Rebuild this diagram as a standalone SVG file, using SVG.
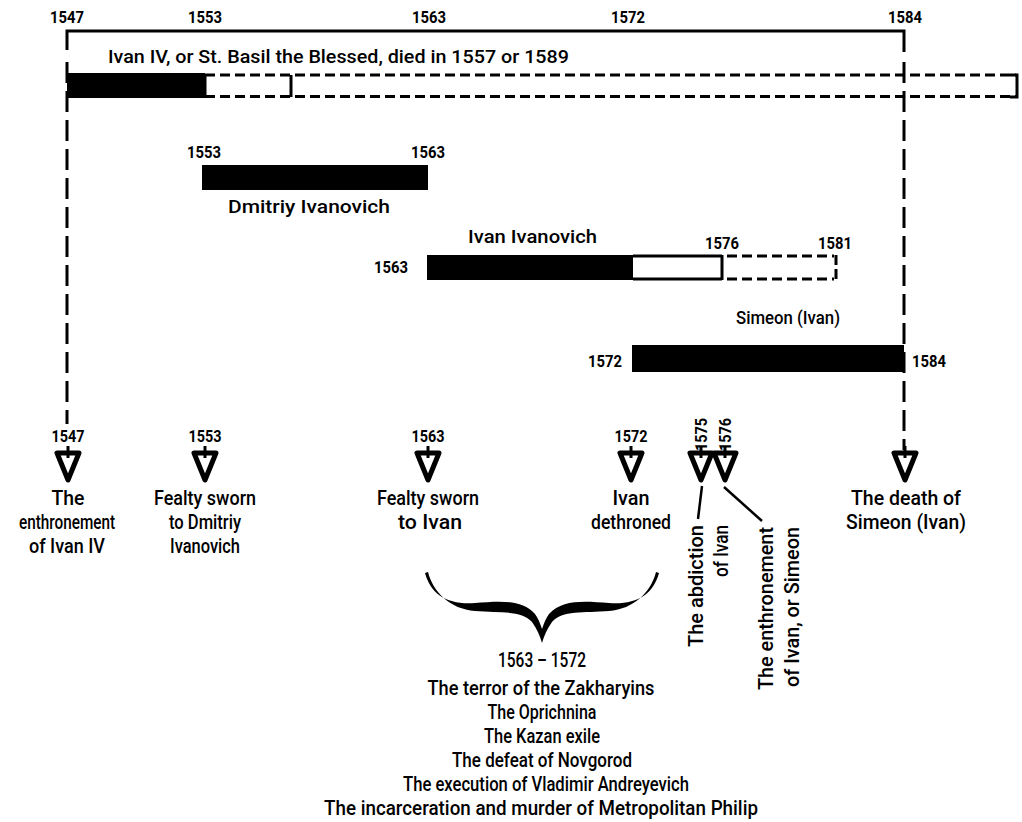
<svg xmlns="http://www.w3.org/2000/svg" width="1022" height="822" viewBox="0 0 1022 822">
<style>
text{font-family:Roboto,"Liberation Sans",sans-serif;font-weight:500;fill:#000}
.yr{font-size:17px;font-weight:bold;text-anchor:middle}
.yl{font-size:17px;font-weight:bold}
.ttl{font-size:19px}
.bl{font-size:19px}
.ev{font-size:21px;text-anchor:middle}
.rot{font-size:21px;text-anchor:end}
.lst{font-size:20px;text-anchor:middle}
.solid{fill:none;stroke:#000;stroke-width:3}
.dash{fill:none;stroke:#000;stroke-width:3;stroke-dasharray:10 5}
.vdash{fill:none;stroke:#000;stroke-width:3;stroke-dasharray:21 8}
.tri{fill:#fff;stroke:#000;stroke-width:5;stroke-linejoin:round}
.thin{fill:none;stroke:#000;stroke-width:2.5}
</style>

<g id="connectors">
  <path class="solid" d="M67,50 V31 H904 V52"/>
  <line class="vdash" x1="67" y1="62" x2="67" y2="424"/>
  <line class="vdash" x1="904" y1="62" x2="904" y2="450"/>
  <line class="thin" x1="702" y1="486" x2="698" y2="519"/>
  <line class="thin" x1="724" y1="487" x2="762" y2="521"/>
</g>

<g id="top-years">
  <text class="yr" x="67" y="23" textLength="34" lengthAdjust="spacingAndGlyphs">1547</text>
  <text class="yr" x="205" y="23" textLength="34" lengthAdjust="spacingAndGlyphs">1553</text>
  <text class="yr" x="429" y="23" textLength="34" lengthAdjust="spacingAndGlyphs">1563</text>
  <text class="yr" x="628" y="23" textLength="34" lengthAdjust="spacingAndGlyphs">1572</text>
  <text class="yr" x="905" y="23" textLength="34" lengthAdjust="spacingAndGlyphs">1584</text>
</g>

<g id="ivan-iv">
  <text class="ttl" x="108" y="63" textLength="461" lengthAdjust="spacingAndGlyphs">Ivan IV, or St. Basil the Blessed, died in 1557 or 1589</text>
  <rect x="67" y="73" width="138" height="25" fill="#000"/>
  <line class="dash" x1="205" y1="75" x2="1016" y2="75"/>
  <line class="dash" x1="205" y1="96.5" x2="1016" y2="96.5"/>
  <line class="solid" x1="205" y1="74" x2="205" y2="98"/>
  <line class="solid" x1="291" y1="75" x2="291" y2="97"/>
  <path class="solid" d="M1010,75 H1017 V97 H1010"/>
</g>

<g id="dmitriy">
  <text class="yr" x="204" y="158" textLength="34" lengthAdjust="spacingAndGlyphs">1553</text>
  <text class="yr" x="428" y="158" textLength="34" lengthAdjust="spacingAndGlyphs">1563</text>
  <rect x="202" y="165" width="226" height="25" fill="#000"/>
  <text class="bl" x="309" y="213" text-anchor="middle" textLength="162" lengthAdjust="spacingAndGlyphs">Dmitriy Ivanovich</text>
</g>

<g id="ivan-ivanovich">
  <text class="bl" x="468" y="243" textLength="129" lengthAdjust="spacingAndGlyphs">Ivan Ivanovich</text>
  <text class="yr" x="722" y="249" textLength="34" lengthAdjust="spacingAndGlyphs">1576</text>
  <text class="yr" x="835" y="249" textLength="34" lengthAdjust="spacingAndGlyphs">1581</text>
  <text class="yr" x="391" y="273" textLength="34" lengthAdjust="spacingAndGlyphs">1563</text>
  <rect x="427" y="255" width="206" height="25" fill="#000"/>
  <path class="solid" d="M633,256 H722 M633,279 H722 M722,255 V280"/>
  <line class="dash" x1="727" y1="256" x2="834" y2="256"/>
  <line class="dash" x1="727" y1="279" x2="834" y2="279"/>
  <line x1="836" y1="255" x2="836" y2="280" stroke="#000" stroke-width="3" stroke-dasharray="10 4"/>
</g>

<g id="simeon">
  <text class="bl" x="736" y="324" textLength="104" lengthAdjust="spacingAndGlyphs">Simeon (Ivan)</text>
  <text class="yr" x="605" y="367" textLength="34" lengthAdjust="spacingAndGlyphs">1572</text>
  <text class="yr" x="929" y="367" textLength="34" lengthAdjust="spacingAndGlyphs">1584</text>
  <rect x="632" y="345" width="272" height="27" fill="#000"/>
</g>

<g id="event-1547">
  <text class="yr" x="68" y="442" textLength="33" lengthAdjust="spacingAndGlyphs">1547</text>
  <polygon class="tri" points="57,453 79,453 68,480"/>
  <line class="solid" x1="68" y1="446" x2="68" y2="458"/>
  <text class="ev" x="68" y="505" textLength="33" lengthAdjust="spacingAndGlyphs">The</text>
  <text class="ev" x="67" y="529" textLength="96" lengthAdjust="spacingAndGlyphs">enthronement</text>
  <text class="ev" x="67" y="553" textLength="76" lengthAdjust="spacingAndGlyphs">of Ivan IV</text>
</g>

<g id="event-1553">
  <text class="yr" x="205" y="442" textLength="33" lengthAdjust="spacingAndGlyphs">1553</text>
  <polygon class="tri" points="194,453 216,453 205,480"/>
  <line class="solid" x1="205" y1="446" x2="205" y2="458"/>
  <text class="ev" x="205" y="505" textLength="102" lengthAdjust="spacingAndGlyphs">Fealty sworn</text>
  <text class="ev" x="205" y="529" textLength="72" lengthAdjust="spacingAndGlyphs">to Dmitriy</text>
  <text class="ev" x="205" y="553" textLength="70" lengthAdjust="spacingAndGlyphs">Ivanovich</text>
</g>

<g id="event-1563">
  <text class="yr" x="428" y="442" textLength="33" lengthAdjust="spacingAndGlyphs">1563</text>
  <polygon class="tri" points="417,453 439,453 428,480"/>
  <line class="solid" x1="428" y1="446" x2="428" y2="458"/>
  <text class="ev" x="428" y="505" textLength="102" lengthAdjust="spacingAndGlyphs">Fealty sworn</text>
  <text class="ev" x="430" y="529" textLength="64" lengthAdjust="spacingAndGlyphs">to Ivan</text>
</g>

<g id="event-1572">
  <text class="yr" x="631" y="442" textLength="33" lengthAdjust="spacingAndGlyphs">1572</text>
  <polygon class="tri" points="620,453 642,453 631,480"/>
  <line class="solid" x1="631" y1="446" x2="631" y2="458"/>
  <text class="ev" x="631" y="505" textLength="37" lengthAdjust="spacingAndGlyphs">Ivan</text>
  <text class="ev" x="631" y="529" textLength="80" lengthAdjust="spacingAndGlyphs">dethroned</text>
</g>

<g id="event-1575">
  <text class="yl" transform="translate(707,451) rotate(-90)" textLength="33" lengthAdjust="spacingAndGlyphs">1575</text>
  <polygon class="tri" points="690,453 712,453 701,480"/>
  <line class="solid" x1="701" y1="446" x2="701" y2="458"/>
  <text class="rot" transform="translate(703,525) rotate(-90)" textLength="122" lengthAdjust="spacingAndGlyphs">The abdiction</text>
  <text class="rot" transform="translate(728,525) rotate(-90)" textLength="52" lengthAdjust="spacingAndGlyphs">of Ivan</text>
</g>

<g id="event-1576">
  <text class="yl" transform="translate(731,451) rotate(-90)" textLength="33" lengthAdjust="spacingAndGlyphs">1576</text>
  <polygon class="tri" points="714,453 736,453 725,480"/>
  <line class="solid" x1="725" y1="446" x2="725" y2="458"/>
  <text class="rot" transform="translate(773,527) rotate(-90)" textLength="163" lengthAdjust="spacingAndGlyphs">The enthronement</text>
  <text class="rot" transform="translate(799,527) rotate(-90)" textLength="160" lengthAdjust="spacingAndGlyphs">of Ivan, or Simeon</text>
</g>

<g id="event-1584">
  <polygon class="tri" points="894,453 916,453 905,480"/>
  <line class="solid" x1="905" y1="446" x2="905" y2="458"/>
  <text class="ev" x="906" y="505" textLength="110" lengthAdjust="spacingAndGlyphs">The death of</text>
  <text class="ev" x="906" y="529" textLength="120" lengthAdjust="spacingAndGlyphs">Simeon (Ivan)</text>
</g>

<g id="period-1563-1572">
  <path fill="#000" d="M428,572 C433,592 450,609 475,611 C500,613 522,610 532,622 C537,629 540,636 542,643 C544,636 547,629 552,622 C562,610 584,613 609,611 C634,609 651,592 656,572 L659,573 C653,595 636,605 609,603 C585,601 562,599 549,614 C546,618 544,623 542,629 C540,623 538,618 535,614 C522,599 499,601 475,603 C448,605 431,595 425,573 Z"/>
  <text class="lst" x="542" y="667" textLength="88" lengthAdjust="spacingAndGlyphs">1563 – 1572</text>
  <text class="lst" x="541" y="695" textLength="227" lengthAdjust="spacingAndGlyphs">The terror of the Zakharyins</text>
  <text class="lst" x="542" y="719" textLength="109" lengthAdjust="spacingAndGlyphs">The Oprichnina</text>
  <text class="lst" x="542" y="743" textLength="116" lengthAdjust="spacingAndGlyphs">The Kazan exile</text>
  <text class="lst" x="542" y="767" textLength="180" lengthAdjust="spacingAndGlyphs">The defeat of Novgorod</text>
  <text class="lst" x="546" y="791" textLength="286" lengthAdjust="spacingAndGlyphs">The execution of Vladimir Andreyevich</text>
  <text class="lst" x="541" y="815" textLength="434" lengthAdjust="spacingAndGlyphs">The incarceration and murder of Metropolitan Philip</text>
</g>
</svg>
